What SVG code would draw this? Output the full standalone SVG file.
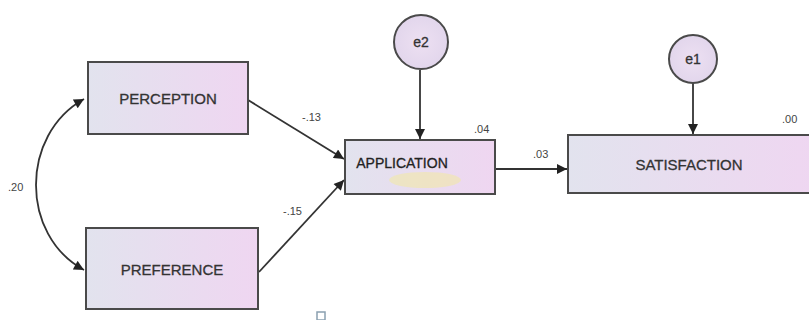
<svg xmlns="http://www.w3.org/2000/svg" width="809" height="320" viewBox="0 0 809 320">
<defs>
<linearGradient id="g" x1="0" y1="0" x2="1" y2="0">
<stop offset="0" stop-color="#e2e3ee"/>
<stop offset="1" stop-color="#efd6f1"/>
</linearGradient>
<radialGradient id="c" cx="0.5" cy="0.5" r="0.5">
<stop offset="0" stop-color="#ede0f2"/>
<stop offset="1" stop-color="#e2d6ec"/>
</radialGradient>
<marker id="ah" viewBox="0 0 10 10" refX="10" refY="5" markerWidth="12" markerHeight="10" markerUnits="userSpaceOnUse" orient="auto-start-reverse">
<path d="M0,0 L10,5 L0,10 z" fill="#222"/>
</marker>
<style>
.box{fill:url(#g);stroke:#4a4a4a;stroke-width:2}
.circ{fill:url(#c);stroke:#4a4a4a;stroke-width:2}
.lbl{font-family:"Liberation Sans",Arial,sans-serif;font-size:15px;fill:#333;stroke:#333;stroke-width:0.3;text-anchor:middle}
.num{font-family:"Liberation Sans",Arial,sans-serif;font-size:11px;fill:#444}
.ln{fill:none;stroke:#333;stroke-width:1.8}
</style>
</defs>
<rect width="809" height="320" fill="#ffffff"/>
<g id="connectors">
<path class="ln" d="M84,99 C20,135 20,235 84,270" marker-start="url(#ah)" marker-end="url(#ah)"/>
<line class="ln" x1="248" y1="100" x2="344" y2="159" marker-end="url(#ah)"/>
<line class="ln" x1="259" y1="272" x2="344" y2="180" marker-end="url(#ah)"/>
<line class="ln" x1="420" y1="70" x2="420" y2="139" marker-end="url(#ah)"/>
<line class="ln" x1="693" y1="83" x2="693" y2="134" marker-end="url(#ah)"/>
<line class="ln" x1="496" y1="169" x2="567" y2="169" marker-end="url(#ah)"/>
<text class="num" x="8" y="191">.20</text>
<text class="num" x="302" y="121">-.13</text>
<text class="num" x="283" y="215">-.15</text>
<text class="num" x="533" y="158">.03</text>
<text class="num" x="474" y="133">.04</text>
<text class="num" x="782" y="123">.00</text>
</g>
<g id="perception">
<rect class="box" x="88" y="62" width="160" height="72"/>
<text class="lbl" x="168" y="104">PERCEPTION</text>
</g>
<g id="preference">
<rect class="box" x="86" y="228" width="172" height="81"/>
<text class="lbl" x="172" y="275">PREFERENCE</text>
</g>
<g id="application">
<rect class="box" x="345" y="140" width="150" height="54"/>
<ellipse cx="425" cy="180" rx="36" ry="8" fill="#f3eaa0" opacity="0.55"/>
<text class="lbl" x="402" y="168" style="font-size:14px;fill:#222;stroke:#222">APPLICATION</text>
</g>
<g id="satisfaction">
<rect class="box" x="568" y="135" width="250" height="58"/>
<text class="lbl" x="689" y="170">SATISFACTION</text>
</g>
<g id="e2">
<circle class="circ" cx="421" cy="42" r="27"/>
<text class="lbl" x="421" y="47" style="font-size:14px">e2</text>
</g>
<g id="e1">
<circle class="circ" cx="693" cy="59" r="24"/>
<text class="lbl" x="693" y="64" style="font-size:14px">e1</text>
</g>
<rect x="317" y="312" width="8" height="8" fill="none" stroke="#8aa0b0" stroke-width="1.5"/>
</svg>
